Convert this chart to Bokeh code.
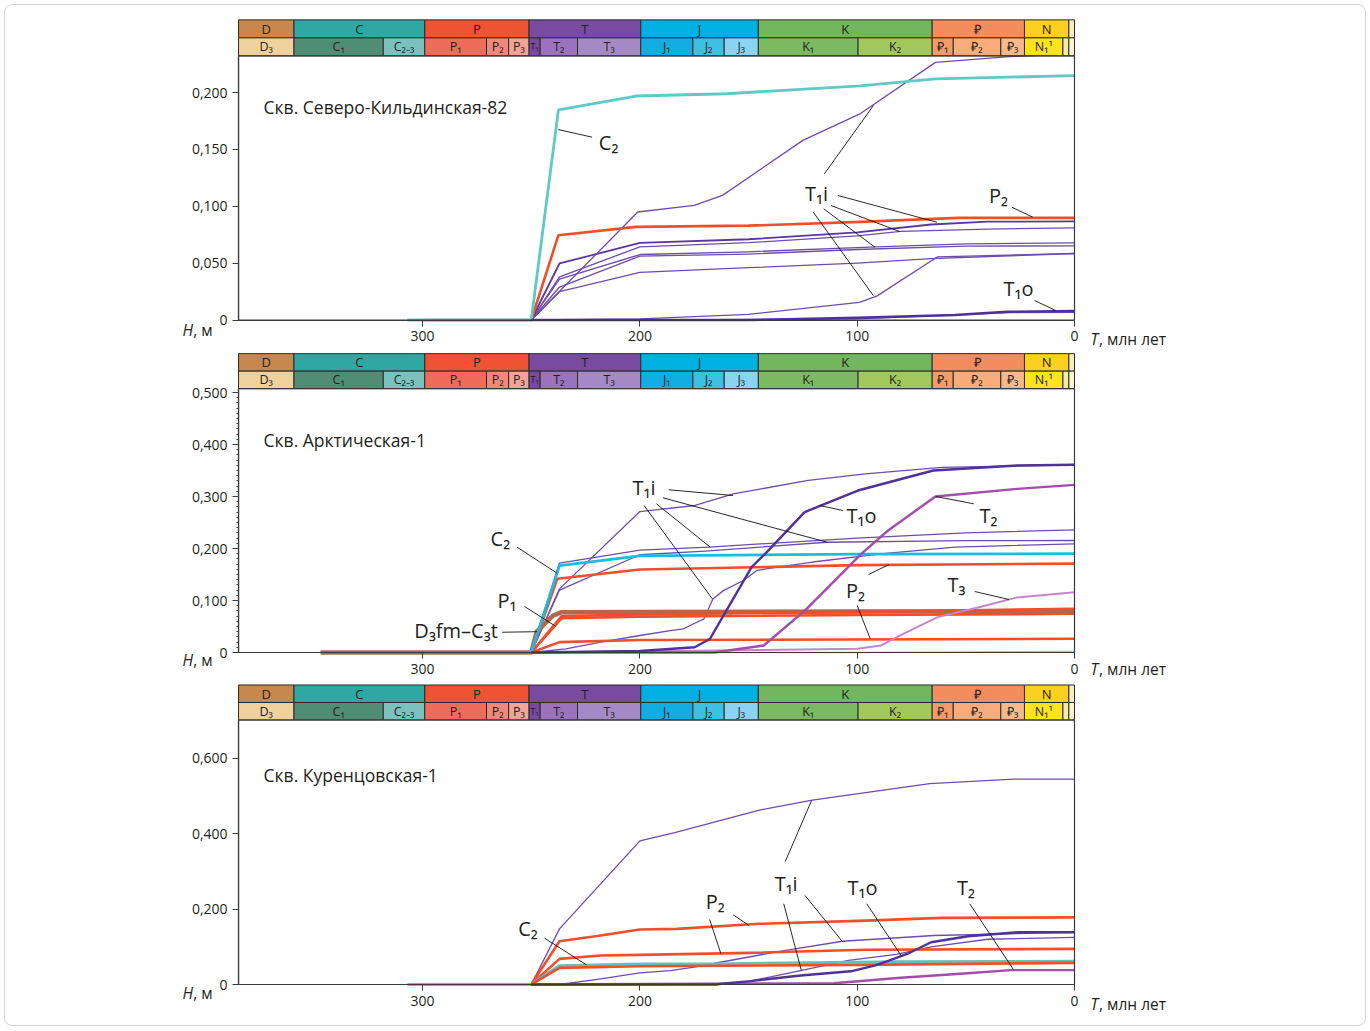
from bokeh.plotting import figure
from bokeh.models import Range1d, FixedTicker, CustomJSTickFormatter
from bokeh.layouts import column
from bokeh.embed import file_html
from bokeh.resources import INLINE
from bokeh.core.properties import value

FONT = "Open Sans"
INK = "#231f20"

# ---------------- geologic time scale (Ma) ----------------
PERIOD_NAMES = ["D", "C", "P", "T", "J", "K", "₽", "N", ""]
PERIOD_START = [385.3, 359.2, 299.0, 251.0, 199.6, 145.5, 65.5, 23.03, 2.59]
PERIOD_END = [359.2, 299.0, 251.0, 199.6, 145.5, 65.5, 23.03, 2.59, 0.0]
PERIOD_COLORS = ["#c8874c", "#2fa7a2", "#ee5334", "#794ba0", "#00b0e2",
                 "#72b65d", "#f48d5e", "#fcd01e", "#f8f2b8"]

EPOCH_NAMES = ["D₃", "C₁", "C₂₋₃", "P₁", "P₂", "P₃", "T₁", "T₂", "T₃", "J₁", "J₂", "J₃",
               "K₁", "K₂", "₽₁", "₽₂", "₽₃", "N₁¹", "", ""]
EPOCH_START = [385.3, 359.2, 318.1, 299.0, 270.6, 260.4, 251.0, 245.9, 228.7, 199.6,
               175.6, 161.2, 145.5, 99.6, 65.5, 55.8, 33.9, 23.03, 5.33, 2.59]
EPOCH_END = [359.2, 318.1, 299.0, 270.6, 260.4, 251.0, 245.9, 228.7, 199.6, 175.6,
             161.2, 145.5, 99.6, 65.5, 55.8, 33.9, 23.03, 5.33, 2.59, 0.0]
EPOCH_COLORS = ["#f0d19b", "#4f8e74", "#7bc1c0", "#ef6b5a", "#f08779", "#f4a397",
                "#7a48a0", "#9b72bc", "#a48ac5", "#12aee3", "#3cc1e2", "#8ad4f1",
                "#7bba61", "#a2c85b", "#f59b69", "#f8ac7a", "#f8b98a", "#fee41d",
                "#faeb9c", "#fbf6d0"]

X_TICKS = [300, 200, 100, 0]

# ---------------- Скв. Северо-Кильдинская-82 ----------------
SK_C2 = ([307, 250, 237.5, 201.7, 160, 98.6, 64, 0],
         [0, 0, 0.1848, 0.197, 0.199, 0.206, 0.212, 0.215])
SK_P2 = ([299, 250, 237.5, 201.8, 150, 98.6, 53.5, 0],
         [0, 0, 0.0746, 0.0819, 0.083, 0.0863, 0.0898, 0.0898])
SK_T1I_TOP = ([250, 201, 175, 162, 125, 99, 64, 30, 0],
              [0, 0.095, 0.1009, 0.1096, 0.158, 0.181, 0.2266, 0.2316, 0.234])
SK_T1I_1 = ([250, 237, 200, 150, 100, 66, 40, 0],
            [0, 0.0497, 0.0678, 0.071, 0.077, 0.084, 0.0865, 0.0868])
SK_T1I_2 = ([250, 237, 200, 150, 100, 80, 40, 0],
            [0, 0.038, 0.0643, 0.068, 0.074, 0.078, 0.080, 0.081])
SK_T1I_3 = ([250, 237, 200, 150, 91, 50, 0],
            [0, 0.036, 0.0576, 0.060, 0.0643, 0.067, 0.0678])
SK_T1I_4 = ([250, 237, 200, 150, 100, 50, 0],
            [0, 0.029, 0.0561, 0.058, 0.062, 0.065, 0.0652])
SK_T1I_5 = ([250, 237, 200, 150, 100, 66, 0],
            [0, 0.0249, 0.0418, 0.046, 0.050, 0.054, 0.0585])
SK_T1I_6 = ([250, 200, 150, 99, 91, 63, 0],
            [0, 0.001, 0.005, 0.0155, 0.021, 0.0556, 0.0585])
SK_T1O = ([250, 150, 100, 55, 31, 0], [0, 0, 0.002, 0.0044, 0.0073, 0.0079])
SK_T1O_2 = ([250, 190, 100, 60, 30, 0], [0, 0, 0.001, 0.004, 0.0065, 0.0067])

SK_ANN_TEXT = ["C₂", "T₁i", "P₂", "T₁o"]
SK_ANN_T = [214.4, 118.7, 35.0, 25.8]
SK_ANN_H = [0.1561, 0.1113, 0.1095, 0.0277]
SK_LEAD_T0 = [237.6, 115.1, 108.9, 112.1, 115.4, 120.2, 28.8, 18.4]
SK_LEAD_H0 = [0.1675, 0.1286, 0.1095, 0.1007, 0.0978, 0.0948, 0.0992, 0.0172]
SK_LEAD_T1 = [222.0, 92.5, 63.3, 80.4, 91.8, 92.6, 19.2, 8.7]
SK_LEAD_H1 = [0.1608, 0.1887, 0.0860, 0.0778, 0.0640, 0.0215, 0.0904, 0.0084]

# ---------------- Скв. Арктическая-1 ----------------
AR_D3 = ([347, 250, 247.5, 240, 236, 200, 100, 0],
         [0, 0, 0.040, 0.071, 0.0776, 0.078, 0.079, 0.0795])
AR_P1_A = ([250, 236, 200, 100, 0], [0, 0.070, 0.073, 0.078, 0.084])
AR_P1_B = ([250, 236, 200, 100, 0], [0, 0.066, 0.069, 0.072, 0.0744])
AR_P2_A = ([250, 238, 200, 147, 100, 0], [0, 0.1417, 0.1596, 0.164, 0.168, 0.171])
AR_P2_B = ([250, 237, 200, 0], [0, 0.020, 0.024, 0.0263])
AR_C2 = ([250, 237, 200, 100, 0], [0, 0.167, 0.186, 0.189, 0.19])
AR_C2_B = ([250, 107, 0], [0, 0, 0.002])
AR_T1I_A = ([250, 237, 200, 174.6, 157, 122.6, 96.3, 61, 0],
            [0, 0.1224, 0.271, 0.2827, 0.305, 0.331, 0.3436, 0.356, 0.361])
AR_T1I_B = ([250, 237, 200, 168, 140, 100, 50, 0],
            [0, 0.172, 0.197, 0.2026, 0.21, 0.22, 0.23, 0.236])
AR_T1I_C = ([250, 237, 200, 170, 114, 50, 0],
            [0, 0.12, 0.188, 0.195, 0.212, 0.215, 0.2154])
AR_T1I_D = ([250, 234, 218, 200, 186, 180, 175, 170.5, 166.4, 161.6, 152.6, 146, 136.7, 120.5, 88, 55, 0],
            [0, 0.007, 0.02, 0.0327, 0.042, 0.0455, 0.0557, 0.0647, 0.103, 0.119, 0.138, 0.158,
             0.164, 0.174, 0.19, 0.2026, 0.209])
AR_T1O = ([250, 200, 174.8, 167.8, 148.6, 141.6, 124.2, 99.7, 65, 26.4, 0],
          [0, 0.003, 0.01, 0.026, 0.164, 0.193, 0.27, 0.3115, 0.35, 0.3596, 0.361])
AR_T2 = ([250, 166, 143, 124, 98, 85.8, 64, 26.4, 0],
         [0, 0, 0.0135, 0.081, 0.19, 0.2346, 0.30, 0.3147, 0.3224])
AR_T3 = ([250, 100, 89, 78.8, 63, 43.9, 26.4, 0],
         [0, 0.007, 0.0135, 0.036, 0.068, 0.087, 0.106, 0.116])

AR_ANN_TEXT = ["C₂", "P₁", "D₃fm–C₃t", "T₁i", "T₁o", "T₂", "P₂", "T₃"]
AR_ANN_T = [264.2, 261.2, 284.6, 198.1, 98.0, 39.6, 100.8, 54.3]
AR_ANN_H = [0.2192, 0.1, 0.0423, 0.3173, 0.2635, 0.2635, 0.1192, 0.1308]
AR_LEAD_T0 = [256.5, 253.1, 263.4, 186.7, 189.4, 192.4, 198.1, 117.3, 63.9, 94.7, 100.0, 45.9]
AR_LEAD_H0 = [0.2025, 0.0885, 0.039, 0.3129, 0.2975, 0.2860, 0.2827, 0.2827, 0.300, 0.150, 0.0904, 0.1173]
AR_LEAD_T1 = [238.1, 238.8, 247.3, 157.1, 113.9, 167.6, 166.7, 106.6, 46.4, 85.3, 94.0, 30.2]
AR_LEAD_H1 = [0.1525, 0.0506, 0.040, 0.3019, 0.2121, 0.2025, 0.1033, 0.2731, 0.286, 0.1692, 0.0263, 0.1019]

# ---------------- Скв. Куренцовская-1 ----------------
KU_C2 = ([307, 250, 237, 200, 165, 79.6, 0], [0, 0, 0.0503, 0.0548, 0.0548, 0.0609, 0.0618])
KU_P2_A = ([250, 237, 218, 200, 183, 145, 96, 61, 0],
           [0, 0.1148, 0.13, 0.1457, 0.1475, 0.161, 0.1695, 0.1766, 0.178])
KU_P2_B = ([250, 237, 218, 200, 149, 96, 0], [0, 0.068, 0.077, 0.0786, 0.084, 0.092, 0.0945])
KU_P2_C = ([250, 237, 200, 100, 0], [0, 0.044, 0.0486, 0.052, 0.0574])
KU_T1I_A = ([250, 237, 200, 183.5, 145, 120.7, 66.6, 28, 0],
            [0, 0.1475, 0.381, 0.4036, 0.4627, 0.489, 0.533, 0.545, 0.545])
KU_T1I_B = ([237, 218, 200, 186, 175, 163, 133.6, 106.8, 64.7, 0],
            [0, 0.015, 0.031, 0.037, 0.046, 0.059, 0.09, 0.1147, 0.13, 0.1386])
KU_T1I_C = ([250, 165, 152, 126, 104, 82, 66, 40, 0],
            [0, 0, 0.006, 0.037, 0.064, 0.08, 0.1, 0.12, 0.125])
KU_T1O = ([250, 165, 160, 149, 126, 103, 92, 86, 77, 66, 49, 26, 0],
          [0, 0, 0.0035, 0.009, 0.024, 0.035, 0.05, 0.062, 0.081, 0.112, 0.128, 0.1386, 0.1386])
KU_T2 = ([250, 110.7, 80, 49, 29.4, 0], [0, 0.0035, 0.018, 0.03, 0.038, 0.038])

KU_ANN_TEXT = ["C₂", "P₂", "T₁i", "T₁o", "T₂"]
KU_ANN_T = [251.5, 165.3, 132.7, 97.6, 49.9]
KU_ANN_H = [0.1485, 0.2202, 0.2679, 0.2581, 0.2581]
KU_LEAD_T0 = [243.9, 157.1, 167.9, 133.1, 124.0, 133.8, 95.6, 48.2]
KU_LEAD_H0 = [0.1228, 0.1849, 0.1724, 0.3263, 0.2361, 0.2141, 0.2141, 0.2141]
KU_LEAD_T1 = [224.6, 149.8, 162.7, 121.0, 106.6, 125.7, 79.6, 28.1]
KU_LEAD_H1 = [0.0522, 0.1565, 0.0814, 0.4881, 0.1122, 0.0371, 0.0751, 0.0398]

# ---------------- styles ----------------
STYLE = {
    "thin": ("#6e4cae", 1.3),
    "thin_dark": ("#5a36a2", 1.8),
    "red": ("#f24e2a", 2.6),
    "cyan1": ("#5ec9c5", 2.8),
    "cyan2": ("#19bde0", 2.8),
    "cyan2_thin": ("#7fd3ec", 1.5),
    "cyan3": ("#5fc2bd", 2.8),
    "brown": ("#b0694a", 4.5),
    "t1o": ("#50309a", 2.4),
    "t2": ("#a24dac", 2.4),
    "t3": ("#c585c8", 2.0),
}

# ---------------- page layout (pixels) ----------------
W = 1370
T0_PX = 1074.0        # page x of T = 0
PX_PER_MA = 2.173
AX_LEFT_T = 384.7     # left edge of the plot area (Ma)
LINE_DARK = "#3a3a3a"


def t_at(px):
    return (T0_PX - px) / PX_PER_MA


def make_panel(fig_top, fig_bottom, y0_px, ppu, top, header_px, yticks, series,
               title, title_h, ann, leads, hlab_y, tlab_y, minor=None):
    p = figure(width=W, height=fig_bottom - fig_top,
               x_range=Range1d(t_at(0), t_at(W)),
               y_range=Range1d(-(fig_bottom - y0_px) / ppu, (y0_px - fig_top) / ppu),
               output_backend="svg", toolbar_location=None, min_border=0,
               min_border_left=0, min_border_right=0, min_border_top=0, min_border_bottom=0)
    p.grid.visible = False
    p.outline_line_color = None
    p.background_fill_color = None
    p.border_fill_color = None

    for (ts, hs), key in series:
        col, w = STYLE[key]
        p.line(ts, hs, line_color=col, line_width=w, line_join="round")

    t0, h0, t1, h1 = leads
    p.segment(x0=t0, y0=h0, x1=t1, y1=h1, line_color="#111111", line_width=0.9)
    texts, at, ah = ann
    p.text(x=at, y=ah, text=texts, text_align="center", text_baseline="middle",
           text_font=value(FONT), text_font_size="20px", text_color=INK)
    p.text(x=[373.2], y=[title_h], text=[title], text_align="left",
           text_baseline="middle", text_font=value(FONT), text_font_size="17.5px",
           text_color=INK)

    # axis titles
    p.text(x=[410.5], y=[hlab_y], text=["H"], text_align="left", text_baseline="middle",
           text_font=value(FONT), text_font_size="15.5px", text_font_style="italic",
           text_color=INK)
    p.text(x=[405.6], y=[hlab_y], text=[", м"], text_align="left", text_baseline="middle",
           text_font=value(FONT), text_font_size="15.5px", text_color=INK)
    p.text(x=[-7.4], y=[tlab_y], text=["T"], text_align="left", text_baseline="middle",
           text_font=value(FONT), text_font_size="15.5px", text_font_style="italic",
           text_color=INK)
    p.text(x=[-11.3], y=[tlab_y], text=[", млн лет"], text_align="left",
           text_baseline="middle", text_font=value(FONT), text_font_size="15.5px",
           text_color=INK)

    # geologic header (drawn over the lines, like the original)
    hh = header_px / ppu
    pl = [min(s, AX_LEFT_T) for s in PERIOD_START]
    el = [min(s, AX_LEFT_T) for s in EPOCH_START]
    p.quad(left=pl, right=PERIOD_END, bottom=top + hh / 2, top=top + hh,
           fill_color=PERIOD_COLORS, line_color="#2b2b2b", line_width=1)
    p.quad(left=el, right=EPOCH_END, bottom=top, top=top + hh / 2,
           fill_color=EPOCH_COLORS, line_color="#2b2b2b", line_width=1)
    pc = [(a + b) / 2 for a, b in zip(pl, PERIOD_END)]
    ec = [(a + b) / 2 for a, b in zip(el, EPOCH_END)]
    p.text(x=pc, y=[top + hh * 0.75] * len(pc), text=PERIOD_NAMES, text_align="center",
           text_baseline="middle", text_font=value(FONT), text_font_size="13px",
           text_color=INK)
    sizes = ["12.5px"] * len(ec)
    sizes[EPOCH_NAMES.index("T₁")] = "9px"
    p.text(x=ec, y=[top + hh * 0.25] * len(ec), text=EPOCH_NAMES, text_align="center",
           text_baseline="middle", text_font=value(FONT), text_font_size=sizes,
           text_color=INK)

    # plot-area frame
    p.quad(left=AX_LEFT_T, right=0, bottom=0, top=top, fill_color=None,
           line_color=LINE_DARK, line_width=1.2)

    # axes, pinned to the plot area
    xa = p.xaxis[0]
    xa.ticker = FixedTicker(ticks=X_TICKS)
    xa.fixed_location = 0
    xa.bounds = (0, AX_LEFT_T)
    xa.minor_tick_out = 0
    xa.minor_tick_in = 0
    ya = p.yaxis[0]
    ya.fixed_location = AX_LEFT_T
    ya.bounds = (0, top)
    if minor:
        ya.ticker = FixedTicker(ticks=yticks, minor_ticks=minor)
        ya.minor_tick_out = 2
        ya.minor_tick_in = 0
        ya.minor_tick_line_color = "#444444"
    else:
        ya.ticker = FixedTicker(ticks=yticks)
        ya.minor_tick_out = 0
        ya.minor_tick_in = 0
    ya.formatter = CustomJSTickFormatter(
        code="return tick == 0 ? '0' : tick.toFixed(3).replace('.', ',');")
    for ax in (xa, ya):
        ax.axis_line_color = LINE_DARK
        ax.axis_line_width = 1.2
        ax.major_tick_line_color = LINE_DARK
        ax.major_tick_in = 0
        ax.major_tick_out = 6
        ax.major_label_text_font = FONT
        ax.major_label_text_font_size = "14px"
        ax.major_label_text_color = INK
    xa.major_label_standoff = 5
    ya.major_label_standoff = 5
    return p


sk_series = [
    (SK_T1O_2, "thin"), (SK_T1I_6, "thin"), (SK_T1I_5, "thin"), (SK_T1I_4, "thin"),
    (SK_T1I_3, "thin"), (SK_T1I_2, "thin"), (SK_T1I_1, "thin_dark"), (SK_T1I_TOP, "thin"),
    (SK_P2, "red"), (SK_C2, "cyan1"), (SK_T1O, "t1o"),
]
ar_series = [
    (AR_C2_B, "cyan2_thin"), (AR_T1I_D, "thin"), (AR_T1I_C, "thin"), (AR_T1I_B, "thin"),
    (AR_T1I_A, "thin"), (AR_P2_B, "red"), (AR_P1_B, "red"), (AR_D3, "brown"),
    (AR_P1_A, "red"), (AR_P2_A, "red"), (AR_C2, "cyan2"), (AR_T3, "t3"), (AR_T2, "t2"),
    (AR_T1O, "t1o"),
]
ku_series = [
    (KU_T1I_C, "thin"), (KU_T1I_B, "thin"), (KU_T1I_A, "thin"), (KU_P2_A, "red"),
    (KU_P2_B, "red"), (KU_C2, "cyan3"), (KU_P2_C, "red"), (KU_T2, "t2"), (KU_T1O, "t1o"),
]

p1 = make_panel(0, 349, 319.5, 1137, 0.2323, 36, [0, 0.05, 0.1, 0.15, 0.2], sk_series,
                "Скв. Северо-Кильдинская-82", 0.1872,
                (SK_ANN_TEXT, SK_ANN_T, SK_ANN_H),
                (SK_LEAD_T0, SK_LEAD_H0, SK_LEAD_T1, SK_LEAD_H1),
                -0.0084, -0.0163)
p2 = make_panel(349, 682, 652, 520, 0.5074, 35, [0, 0.1, 0.2, 0.3, 0.4, 0.5], ar_series,
                "Скв. Арктическая-1", 0.4096,
                (AR_ANN_TEXT, AR_ANN_T, AR_ANN_H),
                (AR_LEAD_T0, AR_LEAD_H0, AR_LEAD_T1, AR_LEAD_H1),
                -0.0135, -0.0308, minor=[i / 100 for i in range(0, 51)])
p3 = make_panel(682, 1030, 984, 377, 0.7016, 35, [0, 0.2, 0.4, 0.6], ku_series,
                "Скв. Куренцовская-1", 0.557,
                (KU_ANN_TEXT, KU_ANN_T, KU_ANN_H),
                (KU_LEAD_T0, KU_LEAD_H0, KU_LEAD_T1, KU_LEAD_H1),
                -0.0225, -0.0504)

layout = column(p1, p2, p3, spacing=0,
                styles={"outline": "1px solid #d6d6d6", "outline-offset": "-5px",
                        "border-radius": "12px"})

open("out.html", "w").write(file_html(layout, INLINE))
